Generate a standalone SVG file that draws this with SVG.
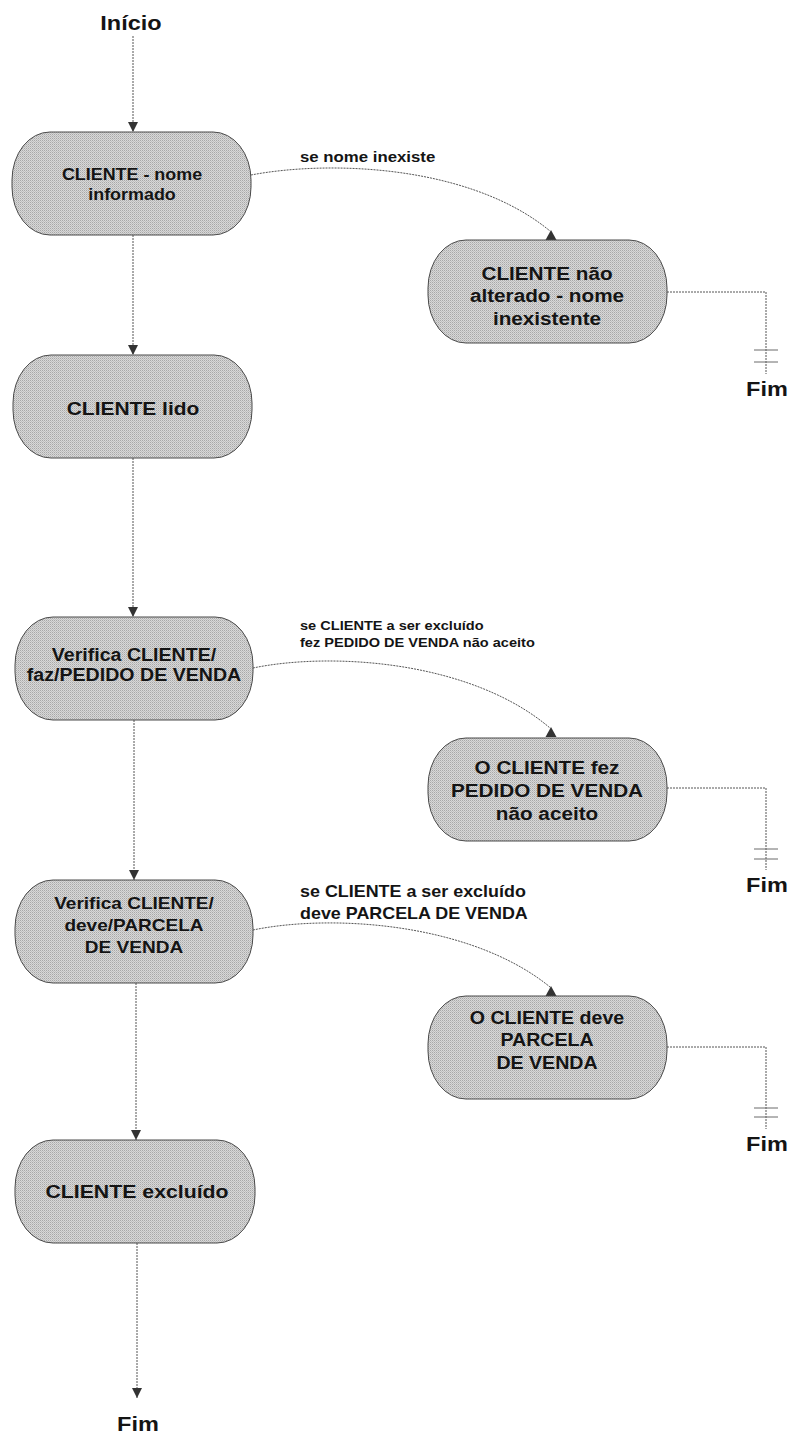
<svg xmlns="http://www.w3.org/2000/svg" width="790" height="1435" viewBox="0 0 790 1435">
  <style>
    .node { fill: url(#dots); stroke: #4a4a4a; stroke-width: 1; }
    .t { font-family: "Liberation Sans", Arial, sans-serif; font-weight: bold; fill: #141414; text-anchor: middle; }
    .lab { font-family: "Liberation Sans", Arial, sans-serif; font-weight: bold; fill: #141414; text-anchor: start; }
    .wire { fill: none; stroke: #555; stroke-width: 1; stroke-dasharray: 2 1; }
    .tick { stroke: #6a6a6a; stroke-width: 1; }
    .head { fill: #333; }
  </style>
  <defs>
    <!-- halftone grey fill used by every state box -->
    <pattern id="dots" width="2" height="2" patternUnits="userSpaceOnUse">
      <rect width="2" height="2" fill="#d8d8d8"/>
      <rect width="1" height="1" fill="#a8a8a8"/>
      <rect x="1" y="1" width="1" height="1" fill="#bfbfbf"/>
    </pattern>
    <marker id="down" markerUnits="userSpaceOnUse" markerWidth="10" markerHeight="10" refX="10" refY="5" orient="auto">
      <path d="M0,0 L10,5 L0,10 Z" class="head"/>
    </marker>
    <path id="up" d="M0,-10 L5.5,0 L-5.5,0 Z"/>
  </defs>

  <rect width="790" height="1435" fill="#fff"/>

  <!-- connectors -->
  <g id="connectors">
    <path class="wire" d="M133 36 V132" marker-end="url(#down)"/>
    <path class="wire" d="M133 235 V355" marker-end="url(#down)"/>
    <path class="wire" d="M133 458 V617" marker-end="url(#down)"/>
    <path class="wire" d="M134 720 V880" marker-end="url(#down)"/>
    <path class="wire" d="M136 983 V1140" marker-end="url(#down)"/>
    <path class="wire" d="M137 1243 V1398" marker-end="url(#down)"/>

    <path class="wire" d="M251 175 C 330 160, 470 165, 550 231"/>
    <use href="#up" x="551" y="240" class="head"/>
    <path class="wire" d="M253 668 C 330 652, 470 660, 550 728"/>
    <use href="#up" x="551" y="737" class="head"/>
    <path class="wire" d="M253 930 C 330 914, 470 922, 550 987"/>
    <use href="#up" x="551" y="996" class="head"/>

    <path class="wire" d="M667 292 H766 V374"/>
    <line class="tick" x1="754" y1="350" x2="778" y2="350"/>
    <line class="tick" x1="754" y1="362" x2="778" y2="362"/>
    <path class="wire" d="M667 788 H766 V870"/>
    <line class="tick" x1="754" y1="849" x2="778" y2="849"/>
    <line class="tick" x1="754" y1="859" x2="778" y2="859"/>
    <path class="wire" d="M667 1047 H766 V1129"/>
    <line class="tick" x1="754" y1="1108" x2="778" y2="1108"/>
    <line class="tick" x1="754" y1="1117" x2="778" y2="1117"/>
  </g>

  <!-- connector labels -->
  <g id="labels">
    <text class="lab" font-size="15" transform="translate(300 162) scale(1.12 1)">se nome inexiste</text>
    <text class="lab" font-size="13" transform="translate(300 630) scale(1.12 1)"><tspan x="0">se CLIENTE a ser excluído</tspan><tspan x="0" dy="17">fez PEDIDO DE VENDA não aceito</tspan></text>
    <text class="lab" font-size="16" transform="translate(300 897) scale(1.12 1)"><tspan x="0">se CLIENTE a ser excluído</tspan><tspan x="0" dy="22">deve PARCELA DE VENDA</tspan></text>
  </g>

  <!-- start / end terminals -->
  <g id="inicio"><text class="t" font-size="21" transform="translate(131 30) scale(1.12 1)">Início</text></g>
  <g id="fim-1"><text class="t" font-size="21" transform="translate(767 396) scale(1.12 1)">Fim</text></g>
  <g id="fim-2"><text class="t" font-size="21" transform="translate(767 892) scale(1.12 1)">Fim</text></g>
  <g id="fim-3"><text class="t" font-size="21" transform="translate(767 1151) scale(1.12 1)">Fim</text></g>
  <g id="fim-4"><text class="t" font-size="21" transform="translate(138 1431) scale(1.12 1)">Fim</text></g>

  <!-- state boxes -->
  <g id="n-nome-informado">
    <rect class="node" x="12" y="132" width="239" height="103" rx="38" ry="48"/>
    <text class="t" font-size="16" transform="translate(132 180) scale(1.12 1)"><tspan x="0">CLIENTE - nome</tspan><tspan x="0" dy="20">informado</tspan></text>
  </g>
  <g id="n-nome-inexistente">
    <rect class="node" x="428" y="240" width="239" height="103" rx="38" ry="48"/>
    <text class="t" font-size="18.5" transform="translate(547 280) scale(1.12 1)"><tspan x="0">CLIENTE não</tspan><tspan x="0" dy="22">alterado - nome</tspan><tspan x="0" dy="23">inexistente</tspan></text>
  </g>
  <g id="n-lido">
    <rect class="node" x="13" y="355" width="239" height="103" rx="38" ry="48"/>
    <text class="t" font-size="18.7" transform="translate(133 415) scale(1.12 1)">CLIENTE lido</text>
  </g>
  <g id="n-verifica-pedido">
    <rect class="node" x="15" y="617" width="238" height="103" rx="38" ry="48"/>
    <text class="t" font-size="17.5" transform="translate(134 661) scale(1.12 1)"><tspan x="0">Verifica CLIENTE/</tspan><tspan x="0" dy="20">faz/PEDIDO DE VENDA</tspan></text>
  </g>
  <g id="n-pedido-nao-aceito">
    <rect class="node" x="428" y="738" width="239" height="103" rx="38" ry="48"/>
    <text class="t" font-size="18.5" transform="translate(547 774) scale(1.12 1)"><tspan x="0">O CLIENTE fez</tspan><tspan x="0" dy="23">PEDIDO DE VENDA</tspan><tspan x="0" dy="23">não aceito</tspan></text>
  </g>
  <g id="n-verifica-parcela">
    <rect class="node" x="15" y="880" width="238" height="103" rx="38" ry="48"/>
    <text class="t" font-size="17" transform="translate(134 909) scale(1.12 1)"><tspan x="0">Verifica CLIENTE/</tspan><tspan x="0" dy="22">deve/PARCELA</tspan><tspan x="0" dy="22">DE VENDA</tspan></text>
  </g>
  <g id="n-deve-parcela">
    <rect class="node" x="428" y="996" width="239" height="103" rx="38" ry="48"/>
    <text class="t" font-size="17.5" transform="translate(547 1024) scale(1.12 1)"><tspan x="0">O CLIENTE deve</tspan><tspan x="0" dy="22">PARCELA</tspan><tspan x="0" dy="23">DE VENDA</tspan></text>
  </g>
  <g id="n-excluido">
    <rect class="node" x="15" y="1140" width="240" height="103" rx="38" ry="48"/>
    <text class="t" font-size="19" transform="translate(137 1198) scale(1.12 1)">CLIENTE excluído</text>
  </g>
</svg>
